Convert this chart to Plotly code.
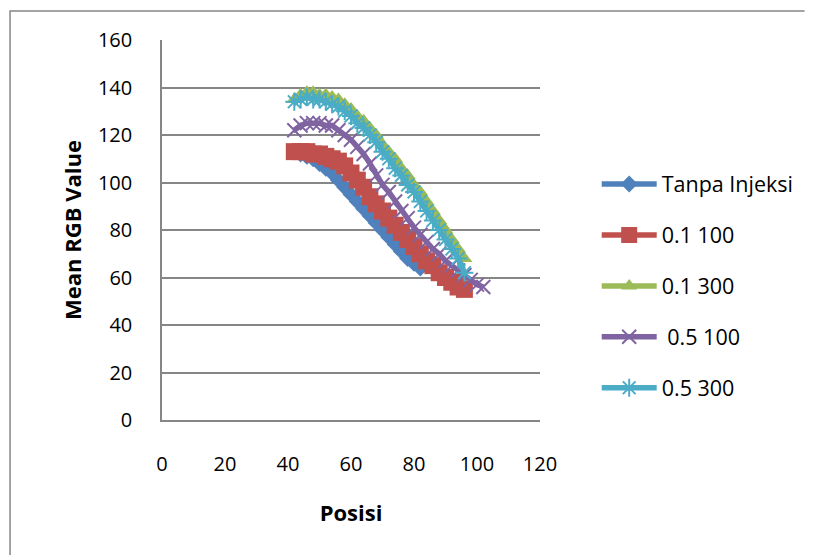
import plotly.graph_objects as go

# ---- data ----
x_tanpa = [42, 44, 46, 48, 50, 52, 54, 56, 58, 60, 62, 64, 66, 68, 70, 72, 74, 76, 78, 80, 82]
y_tanpa = [113, 112, 111, 110, 108, 106, 104, 101, 98, 95, 92, 89, 86, 83, 80, 77, 74, 71, 68, 66, 64]

x_01_100 = [42, 44, 46, 48, 50, 52, 54, 56, 58, 60, 62, 64, 66, 68, 70, 72, 74, 76, 78, 80, 82, 84, 86, 88, 90, 92, 94, 96]
y_01_100 = [113, 113, 113, 112, 112, 111, 110, 109, 107, 104, 101, 98, 94, 91, 88, 85, 82, 79, 76, 73, 70, 67, 65, 62, 60, 58, 56, 55]

x_01_300 = [42, 44, 46, 48, 50, 52, 54, 56, 58, 60, 62, 64, 66, 68, 70, 72, 74, 76, 78, 80, 82, 84, 86, 88, 90, 92, 94, 96]
y_01_300 = [135, 137, 138, 138, 137, 137, 136, 135, 133, 131, 128, 126, 123, 120, 116, 113, 110, 106, 103, 99, 96, 92, 88, 84, 80, 76, 72, 68]

x_05_100 = [42, 44, 46, 48, 50, 52, 54, 56, 58, 60, 62, 64, 66, 68, 70, 72, 74, 76, 78, 80, 82, 84, 86, 88, 90, 92, 94, 96, 98, 100, 102]
y_05_100 = [122, 124, 125, 125, 125, 124, 124, 122, 120, 118, 115, 112, 108, 103, 99, 96, 92, 88, 85, 81, 78, 75, 72, 70, 67, 65, 63, 61, 59, 57, 56]

x_05_300 = [42, 44, 46, 48, 50, 52, 54, 56, 58, 60, 62, 64, 66, 68, 70, 72, 74, 76, 78, 80, 82, 84, 86, 88, 90, 92, 94, 96]
y_05_300 = [134, 135, 136, 135, 135, 134, 133, 132, 130, 128, 125, 123, 120, 117, 113, 110, 106, 103, 99, 96, 92, 88, 84, 80, 76, 72, 68, 62]

x_ticks = [0, 20, 40, 60, 80, 100, 120]
y_ticks = [0, 20, 40, 60, 80, 100, 120, 140, 160]

FONT = "Open Sans"

series = [
    ("Tanpa Injeksi", x_tanpa, y_tanpa, "#4F81BD", dict(symbol="diamond", size=13)),
    ("0.1 100", x_01_100, y_01_100, "#C0504D", dict(symbol="square", size=17)),
    ("0.1 300", x_01_300, y_01_300, "#9BBB59", dict(symbol="triangle-up", size=14)),
    (" 0.5 100", x_05_100, y_05_100, "#8064A2", dict(symbol="x-thin-open", size=14, line=dict(width=2))),
    ("0.5 300", x_05_300, y_05_300, "#4BACC6", dict(symbol="asterisk-open", size=15, line=dict(width=2))),
]

fig = go.Figure()
for i, (name, xs, ys, col, mk) in enumerate(series):
    m = dict(color=col, **mk)
    if "line" in m:
        m["line"] = dict(color=col, width=mk["line"]["width"])
    fig.add_trace(go.Scatter(
        x=xs, y=ys, name=name, mode="lines+markers",
        line=dict(color=col, width=5.5),
        marker=m, legendgroup=f"g{i}",
    ))

# outer chart border: left and top edges as one open path (paper coordinates)
fig.add_shape(type="path", xref="paper", yref="paper",
              path="M -0.402,-0.37 L -0.402,1.0763 L 1.70,1.0763",
              line=dict(color="#868686", width=1.5), layer="below")

fig.update_layout(
    width=813, height=555,
    margin=dict(l=162, r=273, t=40, b=135),
    paper_bgcolor="white", plot_bgcolor="white",
    font=dict(family=FONT, size=20, color="#000000"),
    showlegend=True,
    legend=dict(x=1.15, y=0.675, xanchor="left", yanchor="top",
                font=dict(family=FONT, size=21.5, color="#000000"),
                tracegroupgap=20, itemwidth=55, bgcolor="rgba(0,0,0,0)"),
    xaxis=dict(range=[0, 120], tickvals=x_ticks, ticks="", showgrid=False,
               zeroline=False, showline=True, linecolor="#868686", linewidth=1.5,
               tickfont=dict(family=FONT, size=20), ticklabelstandoff=25,
               title=dict(text="<b>Posisi</b>", font=dict(family=FONT, size=22), standoff=30)),
    yaxis=dict(range=[0, 160], tickvals=y_ticks, ticks="", showgrid=True,
               gridcolor="#868686", gridwidth=1.5, zeroline=False,
               showline=True, linecolor="#868686", linewidth=1.5,
               tickfont=dict(family=FONT, size=20), ticklabelstandoff=24,
               title=dict(text="<b>Mean RGB Value</b>", font=dict(family=FONT, size=22), standoff=10)),
)

fig.write_html("out.html")
